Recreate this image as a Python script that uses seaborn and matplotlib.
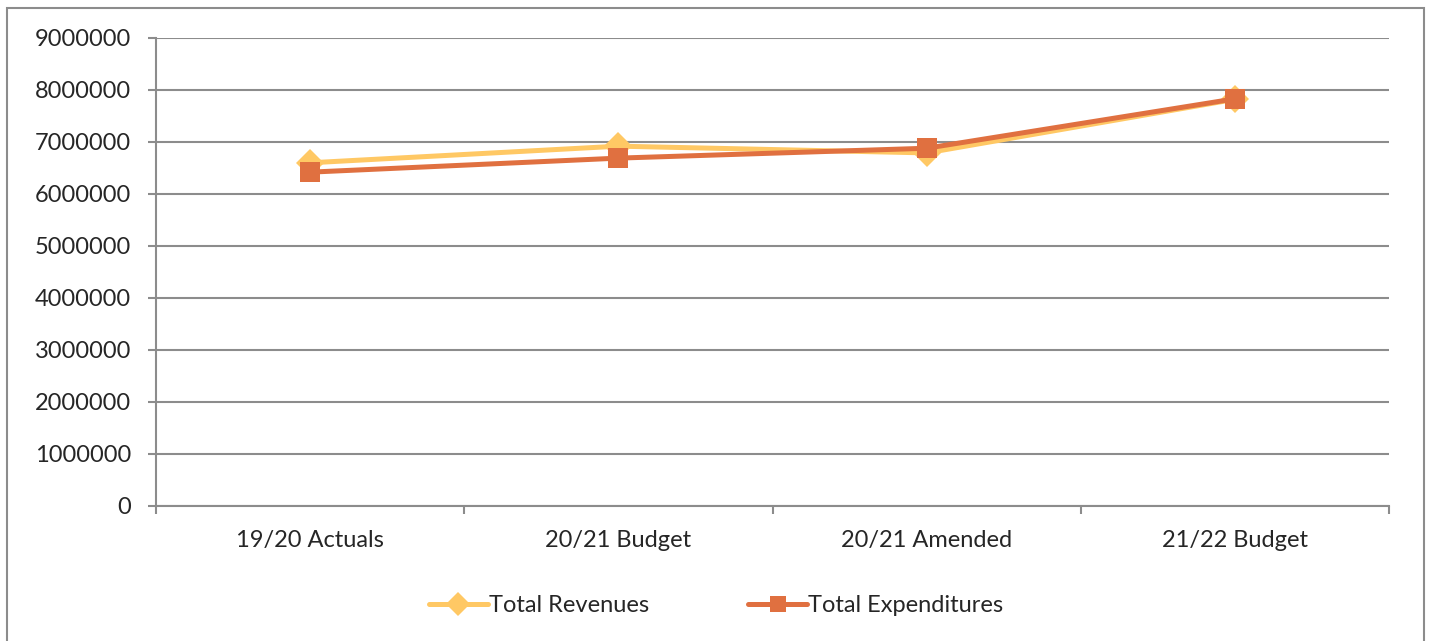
import matplotlib
matplotlib.use("Agg")
import matplotlib.pyplot as plt
import seaborn as sns
import pandas as pd
from matplotlib.ticker import FixedLocator

periods = ["19/20 Actuals", "20/21 Budget", "20/21 Amended", "21/22 Budget"]
total_revenues = [6600000, 6920000, 6790000, 7820000]
total_expenditures = [6420000, 6690000, 6880000, 7830000]
y_ticks = [0, 1000000, 2000000, 3000000, 4000000, 5000000, 6000000, 7000000, 8000000, 9000000]

df = pd.DataFrame({
    "Period": periods * 2,
    "Amount": total_revenues + total_expenditures,
    "Series": ["Total Revenues"] * 4 + ["Total Expenditures"] * 4,
})

sns.set_style("white")
plt.rcParams["font.family"] = ["Lato", "DejaVu Sans"]

fig = plt.figure(figsize=(14.32, 6.41), dpi=100)
ax = fig.add_axes([156 / 1432, 1 - 506 / 641, (1389 - 156) / 1432, (506 - 38) / 641])

palette = {"Total Revenues": "#FFC864", "Total Expenditures": "#E07040"}
markers = {"Total Revenues": "D", "Total Expenditures": "s"}
sns.lineplot(data=df, x="Period", y="Amount", hue="Series", style="Series",
             palette=palette, markers=markers, dashes=False, sort=False,
             linewidth=3.6, markersize=14, markeredgewidth=0, ax=ax, legend=True)

ax.set_xlim(-0.5, 3.5)
ax.set_ylim(0, 9000000)
ax.yaxis.set_major_locator(FixedLocator(y_ticks))
ax.set_yticklabels([str(v) for v in y_ticks])
ax.set_xticks(range(len(periods)))
ax.set_xticklabels(periods)
ax.xaxis.set_minor_locator(FixedLocator([-0.5, 0.5, 1.5, 2.5, 3.5]))
ax.set_xlabel("")
ax.set_ylabel("")

grid_color = "#8C8C8C"
ax.grid(axis="y", color=grid_color, linewidth=1.5)
ax.set_axisbelow(True)
for side in ["top", "right"]:
    ax.spines[side].set_visible(False)
for side in ["left", "bottom"]:
    ax.spines[side].set_color(grid_color)
    ax.spines[side].set_linewidth(1.5)

ax.tick_params(axis="y", which="major", direction="out", length=6, width=1.5,
               color=grid_color, labelsize=17, pad=12, left=True)
ax.tick_params(axis="x", which="major", length=0, labelsize=17, pad=17)
ax.tick_params(axis="x", which="minor", direction="out", length=6, width=1.5,
               color=grid_color, bottom=True)

handles, labels = ax.get_legend_handles_labels()
for h in handles:
    h.set_markersize(12)
ax.legend(handles, labels, loc="center", bbox_to_anchor=(0.5, 1 - 606 / 641),
          bbox_transform=fig.transFigure, ncol=2, frameon=False, fontsize=17,
          handlelength=2.5, handletextpad=0.05, columnspacing=4.2)

# Outer chart frame
frame = plt.Rectangle((7 / 1432, -0.02), 1417 / 1432, 1 - 8 / 641 + 0.02,
                      transform=fig.transFigure, fill=False,
                      edgecolor=grid_color, linewidth=1.5)
fig.add_artist(frame)

fig.savefig("out.png", dpi=100)
